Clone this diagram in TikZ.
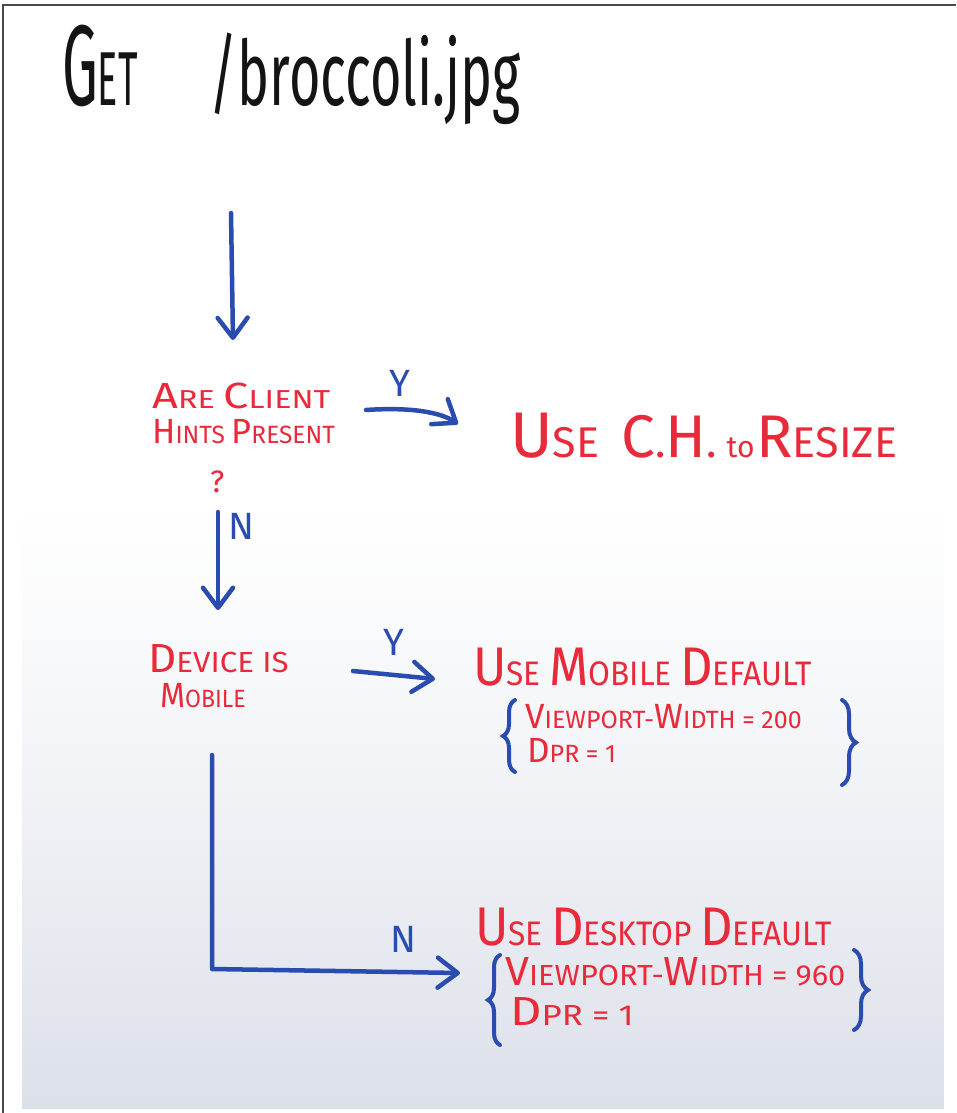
\documentclass[tikz,border=0pt]{standalone}
\usepackage{fontspec}
\usepackage{graphicx}
\setmainfont{Fira Sans}
\usetikzlibrary{arrows.meta,decorations.pathreplacing}

\definecolor{markerred}{HTML}{E82A3B}
\definecolor{markerblue}{HTML}{2A4BB0}
\definecolor{ink}{HTML}{141414}
\definecolor{boardlow}{HTML}{DCE0E9}
\definecolor{frameline}{HTML}{4A4A4A}

% enlarged first letter of a hand-lettered word
\newcommand\capinit[2][1.4]{\scalebox{#1}{#2}}

\tikzset{
  note/.style={text=markerred, inner sep=0pt, anchor=base west},
  lbl/.style={text=markerblue, inner sep=0pt, font=\fontsize{38}{38}\selectfont},
  flow/.style={draw=markerblue, line width=4.5pt, line cap=round, line join=round,
    -{Straight Barb[length=20pt,width=30pt,round]}},
  brk/.style={draw=markerblue, line width=4pt, line cap=round,
    decorate, decoration={brace, amplitude=12pt}},
}

\begin{document}
\begin{tikzpicture}[x=1pt,y=-1pt]
\useasboundingbox (0,0) rectangle (956,1113);

% whiteboard: white at the top, light falling off towards the lower edge
\fill[white] (3,5) rectangle (944,1106);
\foreach \i in {0,...,151}{
  \pgfmathsetmacro\p{100*((\i+0.5)/152)^1.2}
  \fill[boardlow!\p!white] (22,{500+4*\i}) rectangle (944,{504.8+4*\i});
}
\fill[boardlow] (22,1104) rectangle (944,1106);
% photo frame
\draw[frameline, line width=1.6pt] (3,1113) -- (3,5) -- (956,5);

% request line
\node[anchor=base west, inner sep=0pt, text=ink, font=\fontsize{90}{90}\selectfont] (title) at (62,106)
  {\scalebox{.42}[.85]{\capinit[1.5]{G}ET}\hspace{72pt}\scalebox{.6}[1]{/broccoli.jpg}};

% decisions and outcomes
\node[note, font=\fontsize{26}{26}\selectfont, xscale=1.24] (q1a) at (152,408) {\capinit{A}RE \capinit{C}LIENT};
\node[note, font=\fontsize{25}{25}\selectfont, xscale=0.98] (q1b) at (152,443) {\capinit{H}INTS \capinit{P}RESENT};
\node[note, font=\fontsize{31}{31}\selectfont] (q1c) at (210,492) {?};

\node[note, font=\fontsize{43}{43}\selectfont] (use1) at (510,457)
  {\capinit[1.5]{U}SE\hspace{22pt}\capinit{C}.\capinit{H}.\hspace{10pt}{\fontsize{30}{30}\selectfont to}\hspace{2pt}\capinit{R}ESIZE};

\node[note, font=\fontsize{29}{29}\selectfont, xscale=1.08] (dev1) at (148,672) {\capinit{D}EVICE IS};
\node[note, font=\fontsize{25}{25}\selectfont, xscale=0.92] (dev2) at (160,707) {\capinit{M}OBILE};

\node[note, font=\fontsize{34}{34}\selectfont, xscale=0.93] (use2) at (473,685)
  {\capinit[1.6]{U}SE \capinit[1.6]{M}OBILE \capinit[1.6]{D}EFAULT};
\node[note, font=\fontsize{25}{25}\selectfont] (cfg1a) at (525,728) {\capinit{V}IEWPORT-\capinit{W}IDTH = 200};
\node[note, font=\fontsize{25}{25}\selectfont] (cfg1b) at (527,762) {\capinit{D}PR = 1};

\node[note, font=\fontsize{34}{34}\selectfont, xscale=0.93] (use3) at (475,945)
  {\capinit[1.6]{U}SE \capinit[1.6]{D}ESKTOP \capinit[1.6]{D}EFAULT};
\node[note, font=\fontsize{29}{29}\selectfont, xscale=1.06] (cfg2a) at (505,985) {\capinit{V}IEWPORT-\capinit{W}IDTH = 960};
\node[note, font=\fontsize{29}{29}\selectfont, xscale=1.2] (cfg2b) at (510,1025) {\capinit{D}PR = 1};

% branch labels
\node[lbl] (y1) at (400,383) {Y};
\node[lbl] (n1) at (241,526) {N};
\node[lbl] (y2) at (394,642) {Y};
\node[lbl] (n2) at (403,939) {N};

% connector end points
\coordinate (t0) at (231,213);
\coordinate (t1) at (233,340);
\coordinate (y1s) at (366,410);
\coordinate (y1e) at (458,424);
\coordinate (n1s) at (218,512);
\coordinate (n1e) at (218,610);
\coordinate (y2s) at (353,671);
\coordinate (y2e) at (435,679);
\coordinate (n2s) at (212,755);
\coordinate (n2c) at (212,969);
\coordinate (n2e) at (460,973);

\draw[flow] (t0) -- (t1);
\draw[flow] (y1s) .. controls (410,407) and (440,412) .. (y1e);
\draw[flow] (n1s) -- (n1e);
\draw[flow] (y2s) -- (y2e);
\draw[flow] (n2s) -- (n2c) -- (n2e);

% braces round the default settings
\draw[brk] (515,772) -- (515,700);
\draw[brk, decoration={amplitude=14pt}] (842,700) -- (842,785);
\draw[brk] (500,1045) -- (500,955);
\draw[brk, decoration={amplitude=14pt}] (854,950) -- (854,1030);
\end{tikzpicture}
\end{document}
